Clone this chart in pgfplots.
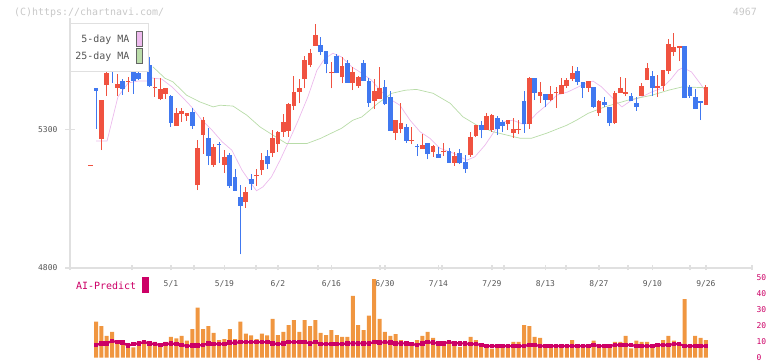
\documentclass[border=0pt]{standalone}
\usepackage{pgfplots}
\pgfplotsset{compat=1.18}
\usepackage{pgfplotstable}
\usepackage{fontspec}
\newfontfamily\mono{DejaVu Sans Mono}
\definecolor{cred}{RGB}{240,82,64}
\definecolor{cblue}{RGB}{64,120,240}
\definecolor{maf}{RGB}{236,186,236}
\definecolor{mas}{RGB}{184,220,168}
\definecolor{axgray}{RGB}{224,224,224}
\definecolor{labgray}{RGB}{85,85,85}
\definecolor{copygray}{RGB}{200,200,200}
\definecolor{volor}{RGB}{240,150,64}
\definecolor{aicol}{RGB}{204,0,102}
\definecolor{pinkfill}{RGB}{238,187,238}
\definecolor{greenfill}{RGB}{187,221,170}
\definecolor{swgray}{RGB}{100,100,100}

\pgfplotstableread{
i O H L C
-1 5169 5171 5169 5171
1 5264 5404 5224 5404
2 5458 5519 5421 5501
4 5449 5497 5419 5462
6 5471 5488 5434 5473
11 5448 5483 5416 5451
12 5408 5483 5404 5444
13 5427 5448 5409 5448
15 5311 5375 5311 5358
16 5353 5375 5326 5365
17 5348 5358 5330 5358
19 5098 5260 5080 5232
20 5279 5344 5212 5332
22 5171 5246 5164 5235
24 5171 5224 5143 5199
28 5038 5092 5017 5072
30 5130 5156 5096 5133
31 5152 5215 5134 5188
33 5213 5296 5200 5269
34 5247 5293 5218 5288
35 5290 5353 5272 5326
36 5294 5393 5272 5390
37 5384 5491 5368 5434
38 5434 5479 5393 5447
39 5480 5563 5447 5548
40 5530 5587 5522 5575
41 5600 5678 5600 5638
44 5502 5540 5447 5505
46 5486 5558 5465 5527
48 5467 5524 5440 5504
49 5456 5492 5449 5486
52 5402 5480 5372 5437
53 5408 5523 5408 5447
56 5287 5332 5260 5332
57 5300 5395 5285 5321
59 5258 5308 5246 5262
61 5228 5282 5228 5242
63 5218 5242 5200 5239
65 5219 5251 5203 5222
67 5179 5217 5169 5203
70 5206 5290 5200 5272
71 5275 5314 5270 5314
73 5296 5358 5296 5347
74 5296 5354 5290 5350
77 5318 5332 5296 5332
78 5287 5340 5269 5300
79 5298 5332 5282 5301
81 5318 5487 5300 5484
83 5420 5469 5395 5433
85 5404 5455 5402 5426
86 5429 5452 5376 5432
87 5426 5485 5426 5458
88 5455 5485 5448 5476
89 5479 5527 5473 5503
92 5449 5473 5433 5473
94 5359 5404 5347 5401
97 5322 5437 5318 5430
98 5430 5487 5430 5448
99 5426 5484 5419 5433
102 5419 5466 5419 5455
103 5476 5539 5476 5520
105 5448 5494 5415 5455
106 5455 5512 5437 5512
107 5509 5624 5498 5606
108 5577 5646 5563 5595
109 5592 5599 5545 5599
114 5386 5458 5386 5451
}\redtab

\pgfplotstableread{
i O H L C
0 5448 5448 5301 5438
3 5541 5541 5467 5521
5 5472 5481 5423 5445
7 5512 5524 5427 5474
8 5503 5527 5476 5481
9 5532 5566 5520 5529
10 5530 5559 5452 5455
14 5419 5422 5308 5323
18 5361 5377 5301 5311
21 5268 5305 5170 5204
23 5248 5254 5178 5244
25 5206 5214 5089 5095
26 5127 5156 5078 5078
27 5055 5098 4849 5024
29 5120 5138 5080 5102
32 5203 5224 5156 5174
42 5602 5630 5566 5578
43 5581 5581 5501 5535
45 5563 5569 5501 5501
47 5539 5548 5467 5467
50 5537 5548 5474 5474
51 5474 5483 5380 5395
54 5451 5476 5386 5390
55 5414 5437 5294 5294
58 5308 5318 5251 5258
60 5238 5246 5203 5235
62 5251 5251 5191 5210
64 5210 5236 5197 5197
66 5221 5233 5179 5179
68 5214 5229 5174 5177
69 5181 5206 5143 5156
72 5314 5330 5267 5296
75 5340 5347 5278 5300
76 5325 5332 5289 5311
80 5401 5437 5287 5318
82 5484 5484 5404 5431
84 5426 5426 5378 5404
90 5509 5523 5458 5469
91 5469 5469 5413 5448
93 5451 5451 5375 5379
95 5397 5415 5378 5386
96 5379 5379 5311 5322
100 5419 5430 5401 5401
101 5394 5415 5366 5379
104 5491 5509 5419 5448
110 5599 5599 5412 5412
111 5451 5458 5412 5419
112 5415 5444 5372 5372
113 5401 5401 5332 5395
}\bluetab

\begin{document}
\begin{tikzpicture}
\useasboundingbox (0,0) rectangle (772bp,361bp);
\begin{axis}[
  at={(70bp,93bp)}, anchor=south west, scale only axis,
  width=682bp, height=250bp,
  xmin=-4.860, xmax=122.617, ymin=4800, ymax=5700,
  axis x line*=bottom, axis y line*=left,
  axis line style={-, draw=axgray, line width=1.2bp},
  xtick={-4.860,6.729,18.318,29.907,41.495,53.084,64.673,76.262,87.851,99.439,111.028,122.617},
  xticklabels={},
  ytick={4800,5300}, yticklabels={4800,5300},
  tick align=center,
  xtick style={draw=axgray, line width=1.2bp, /pgfplots/major tick length=5bp},
  ytick style={draw=axgray, line width=1.2bp, /pgfplots/major tick length=9bp},
  ticklabel style={font=\mono\fontsize{8}{9}\selectfont, text=labgray},
  yticklabel style={xshift=-7bp},
  extra x ticks={14,24,34,44,54,64,74,84,94,104,114},
  extra x tick labels={5/1,5/19,6/2,6/16,6/30,7/14,7/29,8/13,8/27,9/10,9/26},
  extra x tick style={tick style={draw=none}, xticklabel style={yshift=-7bp}},
]
\addplot[draw=maf, line width=0.7bp] coordinates {
(0,5257) (2.06,5257) (4.1,5416) (6.0,5466) (7.85,5473) (9.7,5473) (10.5,5484) (12.3,5480) (14.2,5452) (16.1,5416) (17.9,5379) (19.8,5332) (21.7,5296) (23.6,5254) (25.4,5224) (27.3,5152) (28.8,5110) (30.0,5078) (31.2,5092) (32.8,5128) (34.4,5188) (35.9,5250) (37.8,5332) (39.6,5416) (41.3,5512) (42.8,5555) (44.3,5573) (45.9,5560) (47.8,5524) (49.7,5501) (51.5,5476) (53.4,5434) (55.3,5404) (56.8,5386) (58.7,5332) (60.6,5290) (62.4,5267) (64.3,5231) (66.7,5214) (69.3,5188) (70.8,5200) (72.7,5242) (74.6,5296) (76.1,5326) (77.9,5332) (79.8,5318) (80.7,5322) (82.4,5357) (84.2,5386) (86.1,5422) (88.2,5434) (90.8,5458) (92.9,5473) (94.5,5452) (97.0,5404) (98.3,5380) (100.1,5404) (102.0,5416) (103.9,5434) (105.7,5447) (107.3,5476) (108.8,5512) (109.7,5521) (111.3,5506) (112.9,5465) (114.2,5429)};
\addplot[draw=mas, line width=0.7bp] coordinates {
(10.65,5524) (12.9,5483) (14.4,5470) (16.95,5422) (19.4,5398) (21.9,5380) (23.2,5386) (25.6,5383) (28.2,5350) (30.65,5308) (33.1,5278) (35.6,5248) (39.4,5248) (41.9,5266) (45.9,5303) (48.0,5332) (49.7,5344) (52.7,5393) (55.3,5429) (57.8,5440) (59.9,5443) (63.0,5429) (66.2,5393) (68.6,5344) (71.2,5314) (74.3,5290) (79.3,5267) (81.4,5267) (84.2,5285) (88.0,5314) (89.8,5332) (92.0,5357) (95.1,5380) (99.4,5404) (103.9,5422) (107.0,5440) (109.6,5452) (114.1,5449)};
% wicks
\addplot[draw=none, mark=none, forget plot, error bars/.cd, y dir=plus, y explicit, error mark=none, error bar style={draw=cred, line width=1bp}]
  table[x=i, y=L, y error expr=\thisrow{H}-\thisrow{L}] {\redtab};
\addplot[draw=none, mark=none, forget plot, error bars/.cd, y dir=plus, y explicit, error mark=none, error bar style={draw=cblue, line width=1bp}]
  table[x=i, y=L, y error expr=\thisrow{H}-\thisrow{L}] {\bluetab};
% bodies
\addplot[draw=none, mark=none, forget plot, error bars/.cd, y dir=plus, y explicit, error mark=none, error bar style={draw=cred, line width=4.7bp}]
  table[x=i, y=O, y error expr={max(\thisrow{C}-\thisrow{O},3.6)}] {\redtab};
\addplot[draw=none, mark=none, forget plot, error bars/.cd, y dir=plus, y explicit, error mark=none, error bar style={draw=cblue, line width=4.7bp}]
  table[x=i, y=C, y error expr={max(\thisrow{O}-\thisrow{C},3.6)}] {\bluetab};
\end{axis}

\begin{axis}[
  at={(70bp,3.3bp)}, anchor=south west, scale only axis,
  width=682bp, height=80.4bp,
  xmin=-4.860, xmax=122.617, ymin=0, ymax=50,
  axis x line=none, axis y line*=right,
  axis line style={draw=none},
  xtick=\empty,
  ytick={0,10,20,30,40,50}, yticklabels={0,10,20,30,40,50},
  major tick length=0pt,
  yticklabel style={font=\mono\fontsize{8}{9}\selectfont, text=aicol, xshift=1bp},
  clip=false,
]
\addplot[ybar, bar width=4bp, fill=volor, draw=none] coordinates {
(0,22.4) (1,19.7) (2,13.5) (3,16.1) (4,10.6) (5,9.9) (6,6.4) (7,6.4) (8,7.3) (9,9.3) (10,8.9) (11,9.9) (12,8.9) (13,9.9) (14,13.0) (15,12.0) (16,13.5) (17,10.6) (18,17.8) (19,31.1) (20,17.8) (21,19.7) (22,15.5) (23,11.0) (24,11.6) (25,17.8) (26,11.6) (27,22.4) (28,14.9) (29,13.9) (30,11.6) (31,14.9) (32,13.9) (33,24.2) (34,14.1) (35,16.1) (36,20.3) (37,23.4) (38,16.1) (39,23.4) (40,19.7) (41,23.4) (42,15.5) (43,14.1) (44,17.2) (45,14.1) (46,13.0) (47,13.0) (48,38.5) (49,20.3) (50,17.2) (51,26.1) (52,48.9) (53,24.2) (54,16.1) (55,13.5) (56,14.7) (57,11.0) (58,9.3) (59,9.3) (60,11.0) (61,13.5) (62,16.0) (63,12.4) (64,7.3) (65,8.9) (66,9.3) (67,7.9) (68,6.8) (69,8.9) (70,13.0) (71,11.0) (72,7.9) (73,7.9) (74,5.6) (75,6.4) (76,6.4) (77,6.4) (78,9.9) (79,9.9) (80,20.3) (81,19.7) (82,13.0) (83,12.4) (84,6.4) (85,6.4) (86,6.4) (87,8.5) (88,6.4) (89,11.0) (90,6.4) (91,6.4) (92,6.4) (93,10.6) (94,7.3) (95,7.3) (96,7.3) (97,9.9) (98,9.9) (99,13.5) (100,5.8) (101,10.6) (102,9.9) (103,9.9) (104,7.9) (105,7.9) (106,11.0) (107,13.5) (108,10.6) (109,7.3) (110,36.4) (111,8.5) (112,13.5) (113,12.4) (114,11.0)};
\addplot[draw=aicol, line width=2.2bp, mark=square*, mark size=1.2bp, mark options={fill=aicol, draw=none}] coordinates {
(0,7.9) (1,8.9) (2,8.9) (3,10.4) (4,9.7) (5,9.3) (6,7.5) (7,8.5) (8,8.9) (9,9.7) (10,8.9) (11,8.5) (12,7.9) (13,8.5) (14,8.9) (15,8.5) (16,7.9) (17,7.3) (18,7.5) (19,7.5) (20,7.9) (21,8.9) (22,8.5) (23,8.5) (24,8.5) (25,9.3) (26,9.3) (27,9.7) (28,9.7) (29,9.7) (30,9.7) (31,9.7) (32,9.7) (33,8.9) (34,8.5) (35,8.9) (36,9.7) (37,9.7) (38,9.7) (39,9.7) (40,8.9) (41,9.7) (42,8.5) (43,8.5) (44,8.5) (45,8.5) (46,8.5) (47,8.9) (48,8.9) (49,8.9) (50,8.9) (51,8.9) (52,9.7) (53,9.3) (54,9.7) (55,9.3) (56,8.9) (57,8.9) (58,8.9) (59,8.5) (60,7.9) (61,8.9) (62,9.7) (63,9.3) (64,8.9) (65,9.0) (66,9.7) (67,9.0) (68,8.9) (69,8.9) (70,8.5) (71,8.5) (72,7.9) (73,7.3) (74,7.3) (75,7.3) (76,7.3) (77,7.3) (78,7.3) (79,7.3) (80,7.3) (81,7.9) (82,7.9) (83,7.3) (84,7.3) (85,7.3) (86,7.3) (87,7.3) (88,7.3) (89,7.3) (90,7.3) (91,7.3) (92,7.3) (93,7.9) (94,7.3) (95,7.3) (96,7.3) (97,7.9) (98,7.9) (99,7.9) (100,7.9) (101,7.3) (102,7.3) (103,7.3) (104,7.3) (105,7.9) (106,7.9) (107,7.9) (108,8.5) (109,8.5) (110,7.3) (111,7.3) (112,7.3) (113,7.3) (114,7.3)};
\end{axis}

% header texts
\node[anchor=west, inner sep=0pt, font=\mono\fontsize{10}{12}\selectfont, text=copygray] at (14bp,348.7bp) {(C)https://chartnavi.com/};
\node[anchor=east, inner sep=0pt, font=\mono\fontsize{10}{12}\selectfont, text=copygray] at (757bp,348.7bp) {4967};
% legend
\draw[draw=axgray, fill=white, line width=1bp] (70bp,289.7bp) rectangle (148.3bp,337bp);
\node[anchor=east, inner sep=0pt, font=\mono\fontsize{10}{12}\selectfont, text=labgray] at (129.5bp,321bp) {5-day MA};
\node[anchor=east, inner sep=0pt, font=\mono\fontsize{10}{12}\selectfont, text=labgray] at (129.5bp,304bp) {25-day MA};
\draw[draw=swgray, fill=pinkfill, line width=0.8bp] (136.3bp,314.3bp) rectangle (142.7bp,330bp);
\draw[draw=swgray, fill=greenfill, line width=0.8bp] (136.3bp,297.7bp) rectangle (142.7bp,312.7bp);
% AI-Predict label
\node[anchor=west, inner sep=0pt, font=\mono\fontsize{10}{12}\selectfont, text=aicol] at (76bp,75bp) {AI-Predict};
\fill[aicol] (141.7bp,68.3bp) rectangle (149bp,83.7bp);
\end{tikzpicture}
\end{document}
